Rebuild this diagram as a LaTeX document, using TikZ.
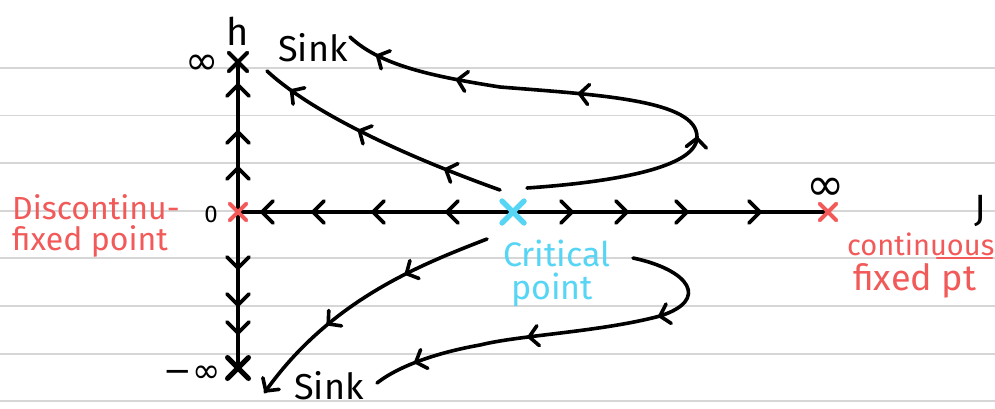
\documentclass[tikz,border=0pt]{standalone}
\usepackage{fontspec}
\setmainfont{Fira Sans}
\newfontfamily\symfont{DejaVu Sans}
\usetikzlibrary{decorations.markings,shapes.misc}
\definecolor{rulegray}{HTML}{D6D6D6}
\definecolor{hred}{HTML}{F25A5A}
\definecolor{hcyan}{HTML}{56D5F5}
\newcommand\bigchev{\draw[ink] (-11,-11) -- (0,0) -- (-11,11);}
\newcommand\smallchev{\draw[ink] (-9,-10) -- (0,0) -- (-9,10);}
\tikzset{
  ink/.style={line width=3.6pt, line cap=round, line join=round},
  xmark/.style={cross out, draw, line width=3.6pt, minimum size=13pt, inner sep=0pt, line cap=round},
  lbl/.style={inner sep=0pt, font=\fontsize{32}{34}\selectfont},
  sym/.style={inner sep=0pt, font=\symfont\fontsize{40}{40}\selectfont},
  rlbl/.style={lbl, text=hred},
  clbl/.style={lbl, text=hcyan},
  rule/.style={draw=rulegray, line width=1.5pt}
}
\begin{document}
\begin{tikzpicture}[x=1pt,y=-1pt]
\path[use as bounding box, fill=white] (0,0) rectangle (995,408);
% ruled paper
\foreach \yy in {68,115.5,163,211,258,306,354,401} {
  \draw[rule] (0,\yy) -- (995,\yy);
}
% fixed points
\node[xmark, minimum size=15pt] (top) at (238,62) {};
\node[xmark, minimum size=16pt, line width=5pt] (bot) at (238,368) {};
\node[xmark, draw=hred] (O) at (238,212) {};
\node[xmark, draw=hred] (R) at (828,212) {};
\node[xmark, draw=hcyan, line width=5pt, minimum size=17pt] (C) at (513,212) {};
% axes
\draw[ink, postaction={decorate}, decoration={markings,
   mark=at position 44pt with {\bigchev},
   mark=at position 80pt with {\bigchev},
   mark=at position 127pt with {\bigchev}}] (O.center) -- (top.center);
\draw[ink, postaction={decorate}, decoration={markings,
   mark=at position 56pt with {\bigchev},
   mark=at position 93pt with {\bigchev},
   mark=at position 121pt with {\bigchev}}] (O.center) -- (bot.center);
\draw[ink, postaction={decorate}, decoration={markings,
   mark=at position 66pt with {\bigchev},
   mark=at position 140pt with {\bigchev},
   mark=at position 200pt with {\bigchev},
   mark=at position 251pt with {\bigchev}}] (C.center) -- (O.center);
\draw[ink, postaction={decorate}, decoration={markings,
   mark=at position 59pt with {\bigchev},
   mark=at position 114pt with {\bigchev},
   mark=at position 174pt with {\bigchev},
   mark=at position 247pt with {\bigchev}}] (C.center) -- (R.center);
% redraw crosses on top
\node[xmark, minimum size=15pt] at (top) {};
\node[xmark, draw=hred] at (O) {};
\node[xmark, draw=hred] at (R) {};
\node[xmark, draw=hcyan, line width=5pt, minimum size=17pt] at (C) {};
% trajectory end points
\coordinate (ui1) at (500,190);
\coordinate (ui2) at (267,71);
\coordinate (uo1) at (527,188);
\coordinate (uoA) at (697,137);
\coordinate (uoB) at (500,87);
\coordinate (uo2) at (350,37);
\coordinate (li1) at (487,239);
\coordinate (li2) at (265,392);
\coordinate (lo1) at (633,258);
\coordinate (loA) at (660,316);
\coordinate (loB) at (480,345);
\coordinate (lo2) at (377,383);
% upper inner trajectory
\draw[ink, postaction={decorate}, decoration={markings,
   mark=at position 0.22 with {\smallchev},
   mark=at position 0.58 with {\smallchev},
   mark=at position 0.88 with {\smallchev}}]
  (ui1) .. controls (430,165) and (320,120) .. (ui2);
% upper outer trajectory
\draw[ink, postaction={decorate}, decoration={markings,
   mark=at position 0.33 with {\smallchev},
   mark=at position 0.57 with {\smallchev},
   mark=at position 0.79 with {\smallchev},
   mark=at position 0.94 with {\smallchev}}]
  (uo1) .. controls (600,183) and (697,170) .. (uoA)
        .. controls (697,100) and (600,95) .. (uoB)
        .. controls (430,76) and (380,65) .. (uo2);
% lower inner trajectory
\draw[ink, postaction={decorate}, decoration={markings,
   mark=at position 0.32 with {\smallchev},
   mark=at position 0.66 with {\smallchev},
   mark=at position 0.995 with {\smallchev}}]
  (li1) .. controls (420,265) and (330,300) .. (li2);
% lower outer trajectory
\draw[ink, postaction={decorate}, decoration={markings,
   mark=at position 0.27 with {\smallchev},
   mark=at position 0.60 with {\smallchev},
   mark=at position 0.89 with {\smallchev}}]
  (lo1) .. controls (690,270) and (710,300) .. (loA)
        .. controls (600,332) and (520,335) .. (loB)
        .. controls (440,352) and (400,365) .. (lo2);
% axis labels
\node[lbl, font=\fontsize{38}{38}\selectfont] (hlab) at (238,31) {h};
\node[lbl, font=\fontsize{38}{38}\selectfont] (Jlab) at (980,211) {J};
\node[sym] (inftop) at (202,65) {∞};
\node[lbl, font=\fontsize{24}{24}\selectfont] (zero) at (211,214) {0};
\node[sym, font=\symfont\fontsize{34}{34}\selectfont] (infbot) at (192,374) {−∞};
\node[sym, font=\symfont\fontsize{46}{46}\selectfont] (infR) at (826,189) {∞};
% sinks
\node[lbl, font=\fontsize{36}{36}\selectfont] (sinktop) at (313,48) {Sink};
\node[lbl, font=\fontsize{36}{36}\selectfont] (sinkbot) at (329,386) {Sink};
% red labels
\node[rlbl, anchor=west] (disc1) at (12,207) {Discontinu-};
\node[rlbl, anchor=west] (disc2) at (12,241) {fixed point};
\node[rlbl, font=\fontsize{29}{30}\selectfont, anchor=west] (cont1) at (847,244) {continuous};
\node[rlbl, font=\fontsize{36}{36}\selectfont, anchor=west] (cont2) at (853,281) {fixed pt};
\draw[hred, line width=2.5pt, line cap=round] (937,258) -- (992,258);
% cyan labels
\node[clbl, font=\fontsize{34}{34}\selectfont, anchor=west] (crit1) at (503,253) {Critical};
\node[clbl, font=\fontsize{34}{34}\selectfont, anchor=west] (crit2) at (511,290) {point};
\end{tikzpicture}
\end{document}
